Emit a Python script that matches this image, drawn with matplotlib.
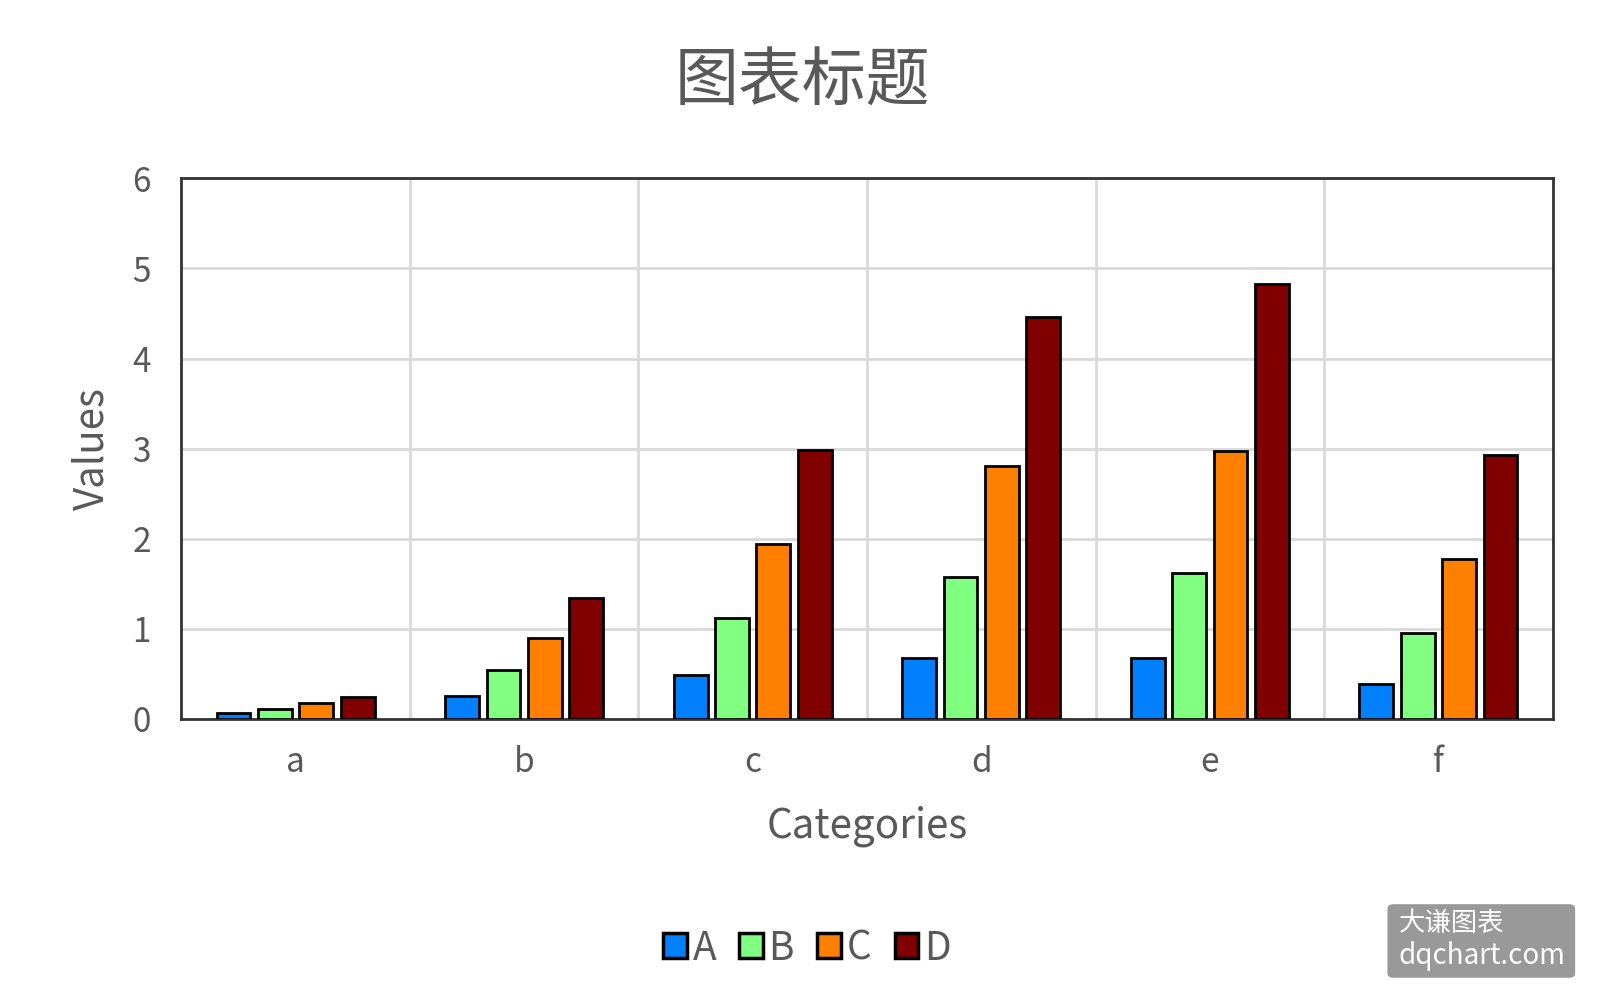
import numpy as np
import matplotlib.pyplot as plt
from matplotlib.patches import FancyBboxPatch

plt.rcParams['font.family'] = ['Noto Sans CJK SC', 'DejaVu Sans']

categories = ['a', 'b', 'c', 'd', 'e', 'f']
series_names = ['A', 'B', 'C', 'D']
A = [0.06, 0.25, 0.48, 0.67, 0.67, 0.39]
B = [0.11, 0.54, 1.12, 1.57, 1.62, 0.95]
C = [0.17, 0.90, 1.94, 2.81, 2.97, 1.77]
D = [0.24, 1.34, 2.98, 4.46, 4.83, 2.93]
colors = ['#0080FF', '#80FF80', '#FF8000', '#800000']

fig = plt.figure(figsize=(16.04, 10.08), dpi=100)
ax = fig.add_axes([0.113, 0.287, 0.855, 0.536])

x = np.arange(len(categories))
w = 0.148
step = 0.181
for i, (vals, name) in enumerate(zip([A, B, C, D], series_names)):
    ax.bar(x + (i - 1.5) * step, vals, width=w, color=colors[i], edgecolor='black',
           linewidth=2, label=name, zorder=3)

ax.set_xlim(-0.5, len(categories) - 0.5)
ax.set_ylim(0, 6)
ax.set_yticks(range(7))
ax.set_xticks(x)
ax.set_xticklabels(categories)
# vertical grid at category boundaries
ax.set_xticks(np.arange(0.5, len(categories) - 0.5), minor=True)
ax.grid(True, which='minor', axis='x', color='#d9d9d9', linewidth=2, zorder=0)
ax.grid(True, which='major', axis='y', color='#d9d9d9', linewidth=2, zorder=0)
ax.tick_params(which='both', length=0)
ax.tick_params(axis='both', labelsize=24, labelcolor='#595959')
ax.tick_params(axis='x', pad=19)
ax.tick_params(axis='y', pad=22)
for s in ax.spines.values():
    s.set_color('#333333')
    s.set_linewidth(2)

ax.set_xlabel('Categories', fontsize=29, color='#595959', labelpad=18)
ax.set_ylabel('Values', fontsize=29, color='#595959', labelpad=14)
fig.text(0.5, 0.918, '图表标题', ha='center', va='center', fontsize=46, color='#595959')

leg = fig.legend(loc='center', bbox_to_anchor=(0.503, 0.059), ncol=4, frameon=False,
                 fontsize=28, handlelength=0.6, handleheight=0.6, handletextpad=0.15,
                 columnspacing=0.6)
for t in leg.get_texts():
    t.set_color('#595959')
for h in leg.legend_handles:
    h.set_linewidth(2.5)

box = FancyBboxPatch((0.865, 0.030), 0.117, 0.073, boxstyle='round,pad=0,rounding_size=0.004',
                     transform=fig.transFigure, facecolor='#999999', edgecolor='none')
fig.patches.append(box)
fig.text(0.872, 0.084, '大谦图表', fontsize=19, color='white', va='center', ha='left')
fig.text(0.872, 0.052, 'dqchart.com', fontsize=20, color='white', va='center', ha='left')

fig.savefig('out.png', dpi=100)
